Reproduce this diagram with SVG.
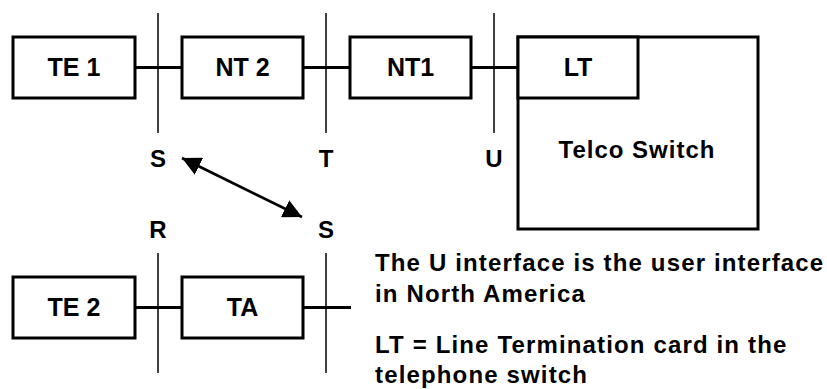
<svg xmlns="http://www.w3.org/2000/svg" width="827" height="389" viewBox="0 0 827 389">
<defs>
<style>
.box{fill:#fff;stroke:#000;stroke-width:3}
.wire{stroke:#000;stroke-width:3;fill:none}
.ref{stroke:#000;stroke-width:1.5;fill:none}
.lbl{font-family:"Liberation Sans",Arial,sans-serif;font-weight:bold;font-size:25px;text-anchor:middle;fill:#000}
.pt{font-family:"Liberation Sans",Arial,sans-serif;font-weight:bold;font-size:24px;text-anchor:middle;fill:#000}
.note{font-family:"Liberation Sans",Arial,sans-serif;font-weight:bold;font-size:24px;letter-spacing:1.15px;fill:#000}
</style>
<marker id="ah" viewBox="0 0 10 10" refX="10" refY="5" markerWidth="7" markerHeight="7" orient="auto-start-reverse" markerUnits="strokeWidth">
<path d="M0,0 L10,5 L0,10 z" fill="#000"/>
</marker>
</defs>
<rect width="827" height="389" fill="#fff"/>
<g id="connectors">
<line class="wire" x1="135" y1="67.5" x2="182" y2="67.5"/>
<line class="wire" x1="303" y1="67.5" x2="350" y2="67.5"/>
<line class="wire" x1="471" y1="67.5" x2="518" y2="67.5"/>
<line class="wire" x1="135" y1="307.5" x2="182" y2="307.5"/>
<line class="wire" x1="303" y1="307.5" x2="351" y2="307.5"/>
<line class="ref" x1="158" y1="13" x2="158" y2="133"/>
<line class="ref" x1="326" y1="13" x2="326" y2="133"/>
<line class="ref" x1="494" y1="13" x2="494" y2="133"/>
<line class="ref" x1="158" y1="253" x2="158" y2="373"/>
<line class="ref" x1="326" y1="253" x2="326" y2="373"/>
<line x1="182" y1="158" x2="302" y2="217" stroke="#000" stroke-width="2.7" marker-start="url(#ah)" marker-end="url(#ah)"/>
</g>
<g id="te1"><rect class="box" x="13" y="37" width="122" height="61"/><text class="lbl" x="74" y="76">TE 1</text></g>
<g id="nt2"><rect class="box" x="182" y="37" width="121" height="61"/><text class="lbl" x="242.5" y="76">NT 2</text></g>
<g id="nt1"><rect class="box" x="350" y="37" width="121" height="61"/><text class="lbl" x="410.5" y="76">NT1</text></g>
<g id="switch"><rect class="box" x="518" y="37" width="240" height="192"/><text class="lbl" x="637" y="158" style="font-size:24px;letter-spacing:1px">Telco Switch</text></g>
<g id="lt"><rect class="box" x="518" y="37" width="120" height="61"/><text class="lbl" x="578" y="76">LT</text></g>
<g id="te2"><rect class="box" x="13" y="277" width="122" height="61"/><text class="lbl" x="74" y="316">TE 2</text></g>
<g id="ta"><rect class="box" x="182" y="277" width="121" height="61"/><text class="lbl" x="242.5" y="316">TA</text></g>
<g id="labels">
<text class="pt" x="158" y="167">S</text>
<text class="pt" x="326" y="167">T</text>
<text class="pt" x="494" y="167">U</text>
<text class="pt" x="158" y="238">R</text>
<text class="pt" x="326" y="238">S</text>
</g>
<g id="notes">
<text class="note" x="375" y="271">The U interface is the user interface</text>
<text class="note" x="375" y="302">in North America</text>
<text class="note" x="375" y="353">LT = Line Termination card in the</text>
<text class="note" x="375" y="383">telephone switch</text>
</g>
</svg>
